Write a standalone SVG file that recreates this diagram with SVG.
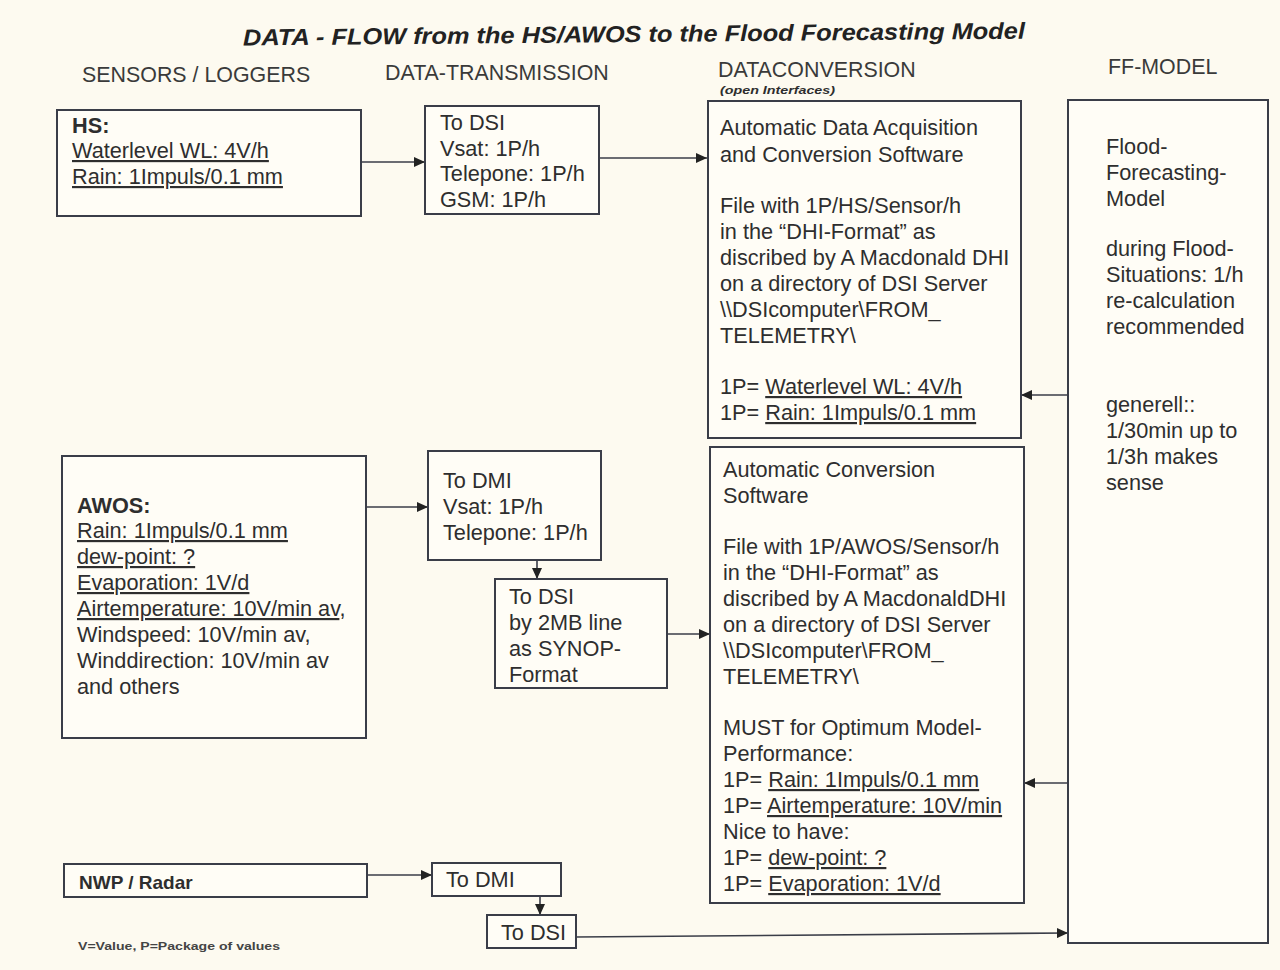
<svg xmlns="http://www.w3.org/2000/svg" width="1280" height="970" viewBox="0 0 1280 970">
<defs>
<style>
text{font-family:"Liberation Sans",Arial,sans-serif;fill:#2e2e2e;font-size:21.7px}
.box{fill:#fffdf6;stroke:#3a3d48;stroke-width:2}
.hdr{font-size:21.4px;fill:#3a3a3a}
.ttl{font-size:23px;font-weight:bold;font-style:italic;fill:#222}
.sub{font-size:10px;font-weight:bold;font-style:italic}
.nwp{font-size:19px;font-weight:bold}
.fn{font-size:11px;font-weight:bold;fill:#444}
.b{font-weight:bold}
.u{text-decoration:underline}
.con{stroke:#3a3d48;stroke-width:1.6;fill:none;marker-end:url(#ah)}
</style>
<marker id="ah" markerUnits="userSpaceOnUse" markerWidth="12" markerHeight="10" refX="11" refY="5" orient="auto">
<path d="M0,0 L11,5 L0,10 Z" fill="#222"/>
</marker>
</defs>
<rect width="1280" height="970" fill="#fdfaf0"/>

<g id="title">
<text x="243" y="42" class="ttl" textLength="782" lengthAdjust="spacingAndGlyphs" transform="rotate(-0.5 634 37)">DATA - FLOW from the HS/AWOS to the Flood Forecasting Model</text>
</g>
<g id="headers">
<text class="hdr" x="82" y="82">SENSORS / LOGGERS</text>
<text class="hdr" x="385" y="80">DATA-TRANSMISSION</text>
<text class="hdr" x="718" y="77">DATACONVERSION</text>
<text class="sub" x="720" y="94" textLength="115" lengthAdjust="spacingAndGlyphs">(open Interfaces)</text>
<text class="hdr" x="1108" y="74">FF-MODEL</text>
</g>

<g id="connectors">
<line class="con" x1="361" y1="162" x2="425" y2="162"/>
<line class="con" x1="599" y1="158" x2="707" y2="158"/>
<line class="con" x1="1068" y1="395" x2="1021" y2="395"/>
<line class="con" x1="366" y1="507" x2="428" y2="507"/>
<line class="con" x1="537" y1="560" x2="537" y2="579"/>
<line class="con" x1="667" y1="634" x2="710" y2="634"/>
<line class="con" x1="1068" y1="783" x2="1024" y2="783"/>
<line class="con" x1="367" y1="875" x2="432" y2="875"/>
<line class="con" x1="540" y1="896" x2="540" y2="915"/>
<line class="con" x1="576" y1="937" x2="1068" y2="933"/>
</g>

<g id="hs">
<rect class="box" x="57" y="110" width="304" height="106"/>
<text x="72" y="133" class="b">HS:</text>
<text x="72" y="158" class="u">Waterlevel WL: 4V/h</text>
<text x="72" y="184" class="u">Rain: 1Impuls/0.1 mm</text>
</g>

<g id="dsi1">
<rect class="box" x="425" y="106" width="174" height="108"/>
<text x="440" y="130">To DSI</text>
<text x="440" y="156">Vsat: 1P/h</text>
<text x="440" y="181">Telepone: 1P/h</text>
<text x="440" y="207">GSM: 1P/h</text>
</g>

<g id="conv1">
<rect class="box" x="708" y="101" width="313" height="337"/>
<text x="720" y="135">Automatic Data Acquisition</text>
<text x="720" y="162">and Conversion Software</text>
<text x="720" y="213">File with 1P/HS/Sensor/h</text>
<text x="720" y="239">in the “DHI-Format” as</text>
<text x="720" y="265">discribed by A Macdonald DHI</text>
<text x="720" y="291">on a directory of DSI Server</text>
<text x="720" y="317">\\DSIcomputer\FROM_</text>
<text x="720" y="343">TELEMETRY\</text>
<text x="720" y="394">1P= <tspan class="u">Waterlevel WL: 4V/h</tspan></text>
<text x="720" y="420">1P= <tspan class="u">Rain: 1Impuls/0.1 mm</tspan></text>
</g>

<g id="ffmodel">
<rect class="box" x="1068" y="100" width="200" height="843"/>
<text x="1106" y="154">Flood-</text>
<text x="1106" y="180">Forecasting-</text>
<text x="1106" y="206">Model</text>
<text x="1106" y="256">during Flood-</text>
<text x="1106" y="282">Situations: 1/h</text>
<text x="1106" y="308">re-calculation</text>
<text x="1106" y="334">recommended</text>
<text x="1106" y="412">generell::</text>
<text x="1106" y="438">1/30min up to</text>
<text x="1106" y="464">1/3h makes</text>
<text x="1106" y="490">sense</text>
</g>

<g id="awos">
<rect class="box" x="62" y="456" width="304" height="282"/>
<text x="77" y="513" class="b">AWOS:</text>
<text x="77" y="538" class="u">Rain: 1Impuls/0.1 mm</text>
<text x="77" y="564" class="u">dew-point: ?</text>
<text x="77" y="590" class="u">Evaporation: 1V/d</text>
<text x="77" y="616"><tspan class="u">Airtemperature: 10V/min av</tspan>,</text>
<text x="77" y="642">Windspeed: 10V/min av,</text>
<text x="77" y="668">Winddirection: 10V/min av</text>
<text x="77" y="694">and others</text>
</g>

<g id="dmi1">
<rect class="box" x="428" y="451" width="173" height="109"/>
<text x="443" y="488">To DMI</text>
<text x="443" y="514">Vsat: 1P/h</text>
<text x="443" y="540">Telepone: 1P/h</text>
</g>

<g id="dsi2">
<rect class="box" x="495" y="579" width="172" height="109"/>
<text x="509" y="604">To DSI</text>
<text x="509" y="630">by 2MB line</text>
<text x="509" y="656">as SYNOP-</text>
<text x="509" y="682">Format</text>
</g>

<g id="conv2">
<rect class="box" x="710" y="447" width="314" height="456"/>
<text x="723" y="477">Automatic Conversion</text>
<text x="723" y="503">Software</text>
<text x="723" y="554">File with 1P/AWOS/Sensor/h</text>
<text x="723" y="580">in the “DHI-Format” as</text>
<text x="723" y="606">discribed by A MacdonaldDHI</text>
<text x="723" y="632">on a directory of DSI Server</text>
<text x="723" y="658">\\DSIcomputer\FROM_</text>
<text x="723" y="684">TELEMETRY\</text>
<text x="723" y="735">MUST for Optimum Model-</text>
<text x="723" y="761">Performance:</text>
<text x="723" y="787">1P= <tspan class="u">Rain: 1Impuls/0.1 mm</tspan></text>
<text x="723" y="813">1P= <tspan class="u">Airtemperature: 10V/min</tspan></text>
<text x="723" y="839">Nice to have:</text>
<text x="723" y="865">1P= <tspan class="u">dew-point: ?</tspan></text>
<text x="723" y="891">1P= <tspan class="u">Evaporation: 1V/d</tspan></text>
</g>

<g id="nwp">
<rect class="box" x="64" y="864" width="303" height="33"/>
<text x="79" y="889" class="nwp">NWP / Radar</text>
</g>

<g id="dmi2">
<rect class="box" x="432" y="863" width="129" height="33"/>
<text x="446" y="887">To DMI</text>
</g>

<g id="dsi3">
<rect class="box" x="487" y="915" width="89" height="33"/>
<text x="501" y="940">To DSI</text>
</g>

<g id="footnote">
<text x="78" y="950" class="fn" textLength="202" lengthAdjust="spacingAndGlyphs">V=Value,  P=Package of values</text>
</g>
</svg>
